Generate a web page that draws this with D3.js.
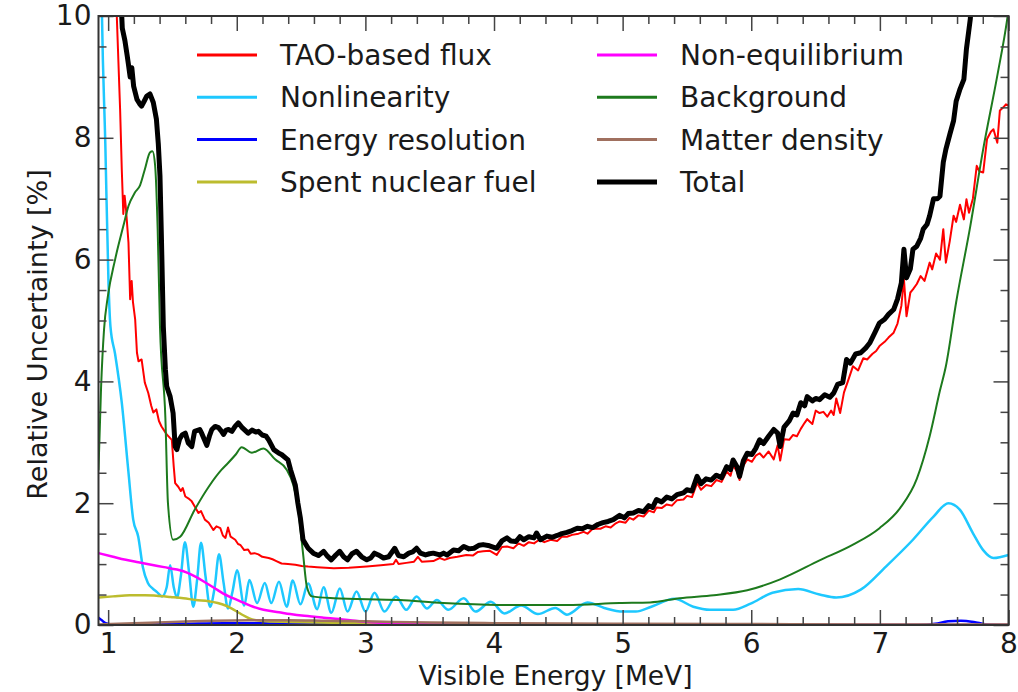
<!DOCTYPE html>
<html><head><meta charset="utf-8">
<script src="https://cdn.jsdelivr.net/npm/d3@7"></script>
<style>
html,body{margin:0;padding:0;background:#fff;}
svg text{font-family:"DejaVu Sans",sans-serif;fill:#1a1a1a;}
</style></head>
<body>
<svg id="chart" width="1018" height="692"></svg>
<script>
// ---------- data ----------
const xMajorTicks = [1,2,3,4,5,6,7,8];
const yMajorTicks = [0,2,4,6,8,10];
const seriesNames = ["TAO-based flux","Nonlinearity","Energy resolution","Spent nuclear fuel","Non-equilibrium","Background","Matter density","Total"];

const taoFlux = [[1.062,10.4],[1.068,9.95],[1.093,8.47],[1.106,7.48],[1.118,6.75],[1.128,7.05],[1.138,6.85],[1.158,6.28],[1.171,5.35],[1.183,5.65],[1.193,5.3],[1.210,5.02],[1.224,4.47],[1.236,4.33],[1.260,4.36],[1.285,3.98],[1.312,3.81],[1.335,3.6],[1.351,3.49],[1.375,3.54],[1.395,3.35],[1.415,3.26],[1.455,3.13],[1.495,3.04],[1.51,2.6],[1.521,2.33],[1.545,2.27],[1.565,2.2],[1.58,2.25],[1.60,2.11],[1.623,2.08],[1.65,2.03],[1.672,1.95],[1.702,1.84],[1.722,1.87],[1.752,1.73],[1.782,1.68],[1.818,1.56],[1.842,1.62],[1.872,1.59],[1.892,1.47],[1.912,1.43],[1.932,1.60],[1.952,1.45],[1.988,1.40],[2.01,1.33],[2.03,1.31],[2.058,1.23],[2.088,1.24],[2.108,1.17],[2.138,1.18],[2.168,1.16],[2.198,1.12],[2.248,1.10],[2.278,1.08],[2.308,1.05],[2.348,1.01],[2.398,1.0],[2.455,0.99],[2.505,0.97],[2.555,0.96],[2.625,0.95],[2.755,0.93],[2.871,0.94],[3.011,0.96],[3.12,0.98],[3.218,1.0],[3.238,1.07],[3.258,1.0],[3.318,1.02],[3.378,1.04],[3.408,1.12],[3.438,1.04],[3.528,1.05],[3.578,1.1],[3.615,1.07],[3.655,1.10],[3.715,1.12],[3.785,1.15],[3.835,1.14],[3.875,1.2],[3.915,1.21],[3.965,1.22],[4.021,1.15],[4.061,1.28],[4.101,1.29],[4.151,1.26],[4.191,1.34],[4.231,1.30],[4.271,1.36],[4.311,1.34],[4.351,1.40],[4.391,1.36],[4.441,1.40],[4.491,1.38],[4.527,1.45],[4.567,1.45],[4.607,1.48],[4.657,1.50],[4.697,1.53],[4.727,1.50],[4.767,1.58],[4.827,1.58],[4.867,1.62],[4.907,1.60],[4.947,1.67],[4.977,1.70],[5.023,1.68],[5.053,1.76],[5.083,1.73],[5.123,1.80],[5.163,1.78],[5.203,1.88],[5.243,1.85],[5.263,1.93],[5.303,1.92],[5.343,1.98],[5.383,1.96],[5.423,2.05],[5.473,2.06],[5.50,2.12],[5.539,2.10],[5.579,2.33],[5.609,2.22],[5.649,2.30],[5.689,2.28],[5.729,2.38],[5.769,2.35],[5.809,2.52],[5.839,2.45],[5.859,2.62],[5.889,2.52],[5.909,2.38],[5.939,2.62],[5.969,2.72],[6.005,2.68],[6.035,2.78],[6.065,2.82],[6.095,2.75],[6.135,2.85],[6.175,2.72],[6.205,2.95],[6.225,2.70],[6.255,3.05],[6.295,3.04],[6.325,3.12],[6.355,3.10],[6.385,3.22],[6.415,3.32],[6.435,3.38],[6.475,3.30],[6.501,3.52],[6.531,3.48],[6.561,3.5],[6.591,3.42],[6.621,3.52],[6.641,3.45],[6.661,3.72],[6.691,3.48],[6.721,3.82],[6.751,4.0],[6.791,4.25],[6.831,4.18],[6.871,4.38],[6.901,4.36],[6.941,4.45],[6.971,4.50],[6.997,4.58],[7.037,4.65],[7.067,4.72],[7.107,4.80],[7.137,4.95],[7.167,5.24],[7.187,5.68],[7.207,5.07],[7.237,5.46],[7.257,5.51],[7.287,5.6],[7.317,5.73],[7.347,5.65],[7.387,5.95],[7.407,5.84],[7.437,6.1],[7.467,6.0],[7.493,6.50],[7.513,5.95],[7.543,6.3],[7.573,6.72],[7.593,6.62],[7.623,6.9],[7.653,6.66],[7.673,6.99],[7.693,6.77],[7.723,7.0],[7.753,7.54],[7.773,7.45],[7.803,7.43],[7.833,7.98],[7.863,8.1],[7.883,8.14],[7.913,7.92],[7.933,8.45],[7.96,8.5],[7.98,8.55],[8.0,8.53]];

const nonlinearity = [[0.945,11],[0.952,10.0],[0.978,7.9],[1.003,5.6],[1.018,4.9],[1.054,4.45],[1.106,3.65],[1.156,2.55],[1.195,1.73],[1.234,1.45],[1.27,0.95],[1.309,0.69],[1.345,0.6],[1.38,0.54],[1.419,0.47],[1.455,0.62],[1.482,0.98],[1.51,0.62],[1.535,0.45],[1.565,0.8],[1.597,1.36],[1.63,0.85],[1.662,0.3],[1.692,0.75],[1.722,1.35],[1.757,0.8],[1.792,0.3],[1.827,0.6],[1.862,1.16],[1.897,0.7],[1.932,0.27],[1.967,0.55],[2.002,0.9],[2.058,0.32],[2.098,0.74],[2.158,0.36],[2.218,0.69],[2.268,0.36],[2.328,0.71],[2.388,0.30],[2.435,0.73],[2.495,0.34],[2.555,0.68],[2.625,0.26],[2.675,0.62],[2.735,0.2],[2.801,0.6],[2.861,0.22],[2.931,0.55],[3.001,0.22],[3.071,0.53],[3.148,0.22],[3.238,0.47],[3.318,0.25],[3.398,0.47],[3.478,0.27],[3.555,0.41],[3.645,0.25],[3.765,0.44],[3.855,0.22],[3.975,0.38],[4.081,0.19],[4.211,0.32],[4.341,0.18],[4.477,0.28],[4.567,0.17],[4.727,0.37],[4.857,0.28],[5.003,0.22],[5.103,0.22],[5.223,0.3],[5.403,0.43],[5.549,0.30],[5.679,0.25],[5.859,0.25],[5.995,0.35],[6.165,0.53],[6.365,0.59],[6.531,0.5],[6.661,0.45],[6.851,0.58],[7.047,0.96],[7.257,1.40],[7.417,1.78],[7.533,2.0],[7.623,1.89],[7.723,1.51],[7.803,1.23],[7.883,1.10],[8.0,1.15]];

const energyResolution = [[0.925,0.12],[0.95,0.08],[0.98,0.03],[1.03,0.01],[1.3,0.01],[1.6,0.02],[1.9,0.03],[2.2,0.03],[2.5,0.02],[3.0,0.01],[4.0,0.005],[5.0,0.003],[6.0,0.0],[7.3,0.0],[7.43,0.02],[7.53,0.06],[7.63,0.07],[7.73,0.05],[7.83,0.01],[8.0,0.0]];

const spentFuel = [[0.925,0.45],[1.038,0.47],[1.168,0.49],[1.285,0.49],[1.375,0.48],[1.485,0.46],[1.585,0.44],[1.682,0.41],[1.782,0.39],[1.852,0.36],[1.912,0.32],[1.962,0.27],[2.01,0.21],[2.05,0.16],[2.098,0.11],[2.148,0.08],[2.228,0.06],[2.425,0.05],[2.625,0.04],[3.02,0.03],[3.52,0.01],[4.01,0.0],[8.0,0.0]];

const nonEquilibrium = [[0.925,1.18],[1.038,1.12],[1.137,1.07],[1.235,1.03],[1.335,0.99],[1.435,0.95],[1.535,0.91],[1.613,0.86],[1.682,0.79],[1.762,0.69],[1.832,0.6],[1.892,0.52],[1.97,0.44],[2.048,0.37],[2.128,0.30],[2.208,0.25],[2.328,0.21],[2.415,0.18],[2.525,0.15],[2.675,0.12],[2.795,0.10],[2.921,0.07],[3.021,0.05],[3.218,0.03],[3.518,0.01],[4.013,0.005],[5.0,0.0],[8.0,0.0]];

const background = [[0.925,2.55],[0.945,3.9],[0.968,4.85],[0.998,5.4],[1.054,6.0],[1.118,6.55],[1.158,6.88],[1.208,7.1],[1.248,7.22],[1.285,7.48],[1.325,7.76],[1.345,7.78],[1.365,7.55],[1.385,6.5],[1.403,4.9],[1.445,3.4],[1.465,2.0],[1.505,1.40],[1.56,1.45],[1.672,1.89],[1.782,2.27],[1.882,2.55],[1.932,2.66],[1.992,2.8],[2.038,2.92],[2.118,2.83],[2.208,2.9],[2.298,2.72],[2.388,2.55],[2.435,2.33],[2.475,1.95],[2.515,1.18],[2.545,0.63],[2.585,0.47],[2.755,0.44],[3.268,0.41],[3.605,0.36],[4.041,0.33],[4.567,0.33],[4.977,0.36],[5.213,0.37],[5.443,0.44],[5.709,0.49],[5.969,0.57],[6.225,0.75],[6.531,1.06],[6.791,1.32],[6.997,1.59],[7.157,1.92],[7.287,2.4],[7.387,3.1],[7.467,3.85],[7.513,4.25],[7.593,5.3],[7.703,6.55],[7.803,7.81],[7.913,9.02],[7.99,9.95],[8.0,10.1]];

const matterDensity = [[0.925,0.01],[1.2,0.03],[1.5,0.05],[1.8,0.07],[2.1,0.08],[2.4,0.08],[2.7,0.07],[3.0,0.06],[3.5,0.04],[4.0,0.03],[5.0,0.02],[6.0,0.015],[7.0,0.01],[8.0,0.01]];

const total = [[1.095,10.5],[1.11,9.8],[1.13,9.6],[1.148,9.35],[1.158,9.2],[1.171,9.0],[1.184,9.15],[1.198,8.85],[1.224,8.63],[1.248,8.55],[1.26,8.52],[1.28,8.6],[1.299,8.68],[1.325,8.72],[1.351,8.58],[1.375,8.31],[1.39,7.9],[1.403,7.37],[1.415,6.28],[1.429,4.9],[1.445,4.2],[1.455,3.92],[1.482,3.75],[1.505,3.48],[1.521,2.93],[1.534,2.88],[1.555,3.05],[1.575,3.12],[1.60,3.15],[1.623,2.99],[1.65,2.93],[1.672,3.18],[1.712,3.21],[1.727,3.15],[1.767,2.95],[1.787,3.1],[1.806,3.21],[1.832,3.26],[1.858,3.24],[1.882,3.18],[1.897,3.13],[1.917,3.2],[1.936,3.21],[1.962,3.18],[1.987,3.26],[2.012,3.32],[2.038,3.25],[2.063,3.2],[2.088,3.15],[2.118,3.2],[2.148,3.17],[2.168,3.18],[2.198,3.12],[2.228,3.1],[2.248,3.04],[2.288,2.88],[2.328,2.82],[2.348,2.80],[2.398,2.71],[2.418,2.55],[2.455,2.3],[2.475,2.0],[2.495,1.75],[2.515,1.40],[2.555,1.26],[2.595,1.18],[2.635,1.14],[2.675,1.21],[2.705,1.13],[2.735,1.07],[2.77,1.15],[2.80,1.21],[2.831,1.12],[2.861,1.07],[2.896,1.17],[2.931,1.21],[2.971,1.12],[3.011,1.07],[3.041,1.1],[3.071,1.18],[3.101,1.15],[3.141,1.10],[3.181,1.12],[3.228,1.26],[3.258,1.14],[3.298,1.12],[3.338,1.18],[3.368,1.2],[3.398,1.26],[3.428,1.18],[3.468,1.15],[3.498,1.17],[3.528,1.18],[3.578,1.15],[3.608,1.18],[3.635,1.15],[3.685,1.23],[3.725,1.22],[3.765,1.29],[3.805,1.25],[3.845,1.26],[3.885,1.31],[3.915,1.32],[3.965,1.3],[4.021,1.26],[4.061,1.38],[4.101,1.43],[4.131,1.38],[4.171,1.37],[4.201,1.45],[4.231,1.40],[4.271,1.45],[4.311,1.43],[4.331,1.51],[4.361,1.40],[4.411,1.46],[4.451,1.44],[4.491,1.47],[4.527,1.50],[4.567,1.52],[4.607,1.55],[4.647,1.59],[4.687,1.58],[4.727,1.62],[4.767,1.60],[4.807,1.65],[4.847,1.68],[4.887,1.70],[4.927,1.73],[4.977,1.80],[5.013,1.76],[5.043,1.83],[5.083,1.84],[5.123,1.88],[5.163,1.86],[5.203,1.96],[5.233,1.93],[5.263,2.06],[5.303,2.02],[5.343,2.1],[5.383,2.07],[5.423,2.14],[5.473,2.17],[5.499,2.22],[5.539,2.2],[5.579,2.44],[5.609,2.32],[5.649,2.40],[5.689,2.38],[5.729,2.46],[5.769,2.42],[5.809,2.60],[5.839,2.55],[5.859,2.71],[5.889,2.6],[5.909,2.44],[5.939,2.7],[5.969,2.82],[6.005,2.80],[6.035,2.9],[6.065,3.04],[6.095,2.98],[6.135,3.1],[6.175,3.21],[6.205,3.15],[6.225,2.93],[6.255,3.25],[6.295,3.35],[6.325,3.48],[6.355,3.45],[6.385,3.65],[6.415,3.6],[6.435,3.75],[6.475,3.68],[6.501,3.72],[6.531,3.70],[6.571,3.78],[6.611,3.74],[6.641,3.81],[6.671,3.95],[6.711,3.98],[6.741,4.36],[6.771,4.30],[6.811,4.45],[6.851,4.47],[6.891,4.55],[6.921,4.63],[6.961,4.8],[6.997,4.96],[7.037,5.02],[7.067,5.10],[7.107,5.18],[7.137,5.35],[7.167,5.62],[7.187,6.17],[7.207,5.7],[7.237,5.85],[7.257,6.17],[7.287,6.22],[7.317,6.35],[7.337,6.50],[7.367,6.58],[7.387,6.72],[7.417,7.0],[7.447,7.0],[7.467,7.04],[7.493,7.6],[7.513,7.81],[7.543,8.05],[7.573,8.28],[7.593,8.6],[7.623,8.8],[7.653,8.96],[7.673,9.46],[7.703,9.95],[7.72,10.5]];

// ---------- layout ----------
const svg = d3.select("#chart");
const L = 98.5, R = 1008.5, T = 16, B = 625;
const x = d3.scaleLinear().domain([0.925, 8]).range([L, R]);
const y = d3.scaleLinear().domain([0, 10]).range([B, T]);

const series = [
  {name: seriesNames[0], data: taoFlux, color: "#ff0000", w: 2, curve: d3.curveLinear},
  {name: seriesNames[1], data: nonlinearity, color: "#1ec8ff", w: 2.5, curve: d3.curveMonotoneX},
  {name: seriesNames[2], data: energyResolution, color: "#0000ff", w: 2.5, curve: d3.curveMonotoneX},
  {name: seriesNames[3], data: spentFuel, color: "#bcbc2e", w: 2.5, curve: d3.curveMonotoneX},
  {name: seriesNames[4], data: nonEquilibrium, color: "#ff00ff", w: 2.5, curve: d3.curveMonotoneX},
  {name: seriesNames[5], data: background, color: "#1d7a1d", w: 2, curve: d3.curveMonotoneX},
  {name: seriesNames[6], data: matterDensity, color: "#a0705f", w: 2.5, curve: d3.curveMonotoneX},
  {name: seriesNames[7], data: total, color: "#000000", w: 5, curve: d3.curveLinear}
];

svg.append("defs").append("clipPath").attr("id","plotclip")
  .append("rect").attr("x", L).attr("y", T).attr("width", R-L).attr("height", B-T);

const plot = svg.append("g").attr("clip-path","url(#plotclip)");
series.forEach(s => {
  const line = d3.line().x(d => x(d[0])).y(d => y(d[1])).curve(s.curve);
  plot.append("path").datum(s.data)
    .attr("d", line).attr("fill","none")
    .attr("stroke", s.color).attr("stroke-width", s.w)
    .attr("stroke-linejoin","round").attr("stroke-linecap","round");
});

// ---------- axes (ticks inward on all sides) ----------
const xMinor = d3.range(1, 8.0001, 0.2).filter(v => Math.abs(v - Math.round(v)) > 1e-6);
const yMinor = d3.range(0, 10.0001, 0.5).filter(v => Math.abs(v/2 - Math.round(v/2)) > 1e-6);
const tickColor = "#444";

function styleAxis(g){
  g.select(".domain").remove();
  g.selectAll(".tick line").attr("stroke", tickColor).attr("stroke-width", 1.5);
  g.selectAll(".tick text").attr("font-size", 28).attr("fill","#1a1a1a")
    .attr("font-family","DejaVu Sans");
}

svg.append("g").attr("transform",`translate(0,${B})`)
  .call(d3.axisBottom(x).tickValues(xMajorTicks).tickSizeInner(-15).tickSizeOuter(0).tickPadding(8).tickFormat(d3.format("d")))
  .call(styleAxis);
svg.append("g").attr("transform",`translate(0,${B})`)
  .call(d3.axisBottom(x).tickValues(xMinor).tickSize(-8).tickFormat(""))
  .call(styleAxis);
svg.append("g").attr("transform",`translate(0,${T})`)
  .call(d3.axisTop(x).tickValues(xMajorTicks).tickSize(-15).tickFormat(""))
  .call(styleAxis);
svg.append("g").attr("transform",`translate(0,${T})`)
  .call(d3.axisTop(x).tickValues(xMinor).tickSize(-8).tickFormat(""))
  .call(styleAxis);

svg.append("g").attr("transform",`translate(${L},0)`)
  .call(d3.axisLeft(y).tickValues(yMajorTicks).tickSizeInner(-15).tickSizeOuter(0).tickPadding(7).tickFormat(d3.format("d")))
  .call(styleAxis);
svg.append("g").attr("transform",`translate(${L},0)`)
  .call(d3.axisLeft(y).tickValues(yMinor).tickSize(-8).tickFormat(""))
  .call(styleAxis);
svg.append("g").attr("transform",`translate(${R},0)`)
  .call(d3.axisRight(y).tickValues(yMajorTicks).tickSize(-15).tickFormat(""))
  .call(styleAxis);
svg.append("g").attr("transform",`translate(${R},0)`)
  .call(d3.axisRight(y).tickValues(yMinor).tickSize(-8).tickFormat(""))
  .call(styleAxis);

// frame
svg.append("rect").attr("x", L).attr("y", T).attr("width", R-L).attr("height", B-T)
  .attr("fill","none").attr("stroke","#333").attr("stroke-width",2);

// axis titles
svg.append("text").attr("x", (L+R)/2 + 2).attr("y", 685)
  .attr("text-anchor","middle").attr("font-size", 26.5).text("Visible Energy [MeV]");
svg.append("text").attr("transform", `translate(47,${(T+B)/2 + 14}) rotate(-90)`)
  .attr("text-anchor","middle").attr("font-size", 27).text("Relative Uncertainty [%]");

// ---------- legend ----------
const legend = svg.append("g");
const colX = [197, 597];
const rowY = [55, 97.3, 139.6, 181.9];
series.forEach((s, i) => {
  const col = Math.floor(i / 4), row = i % 4;
  const g = legend.append("g").attr("transform", `translate(${colX[col]},${rowY[row]})`);
  g.append("line").attr("x1", 0).attr("x2", 60).attr("y1", 0).attr("y2", 0)
    .attr("stroke", s.color).attr("stroke-width", s.name === "Total" ? 5 : 3);
  g.append("text").attr("x", 83).attr("y", 0).attr("dy", "0.36em")
    .attr("font-size", 28).text(s.name);
});
</script>
</body></html>
